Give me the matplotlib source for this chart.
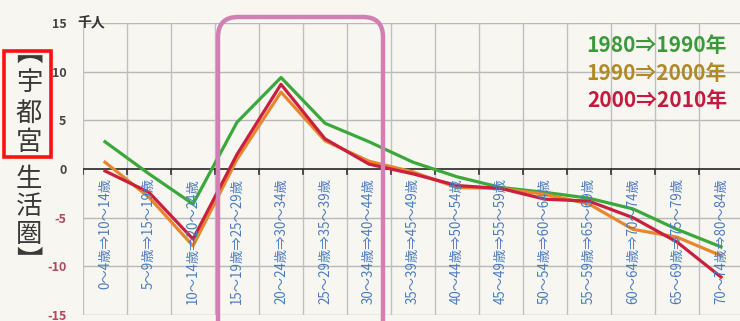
import numpy as np
import matplotlib
matplotlib.use("Agg")
import matplotlib.pyplot as plt
import matplotlib.transforms as mtransforms
from matplotlib.patches import FancyBboxPatch, Rectangle

plt.rcParams['font.family'] = ['Noto Sans CJK JP', 'DejaVu Sans']

# age groups (from -> to, ten years later)
ages_from = ["0～4", "5～9", "10～14", "15～19", "20～24", "25～29", "30～34", "35～39",
             "40～44", "45～49", "50～54", "55～59", "60～64", "65～69", "70～74"]
ages_to = ["10～14", "15～19", "20～24", "25～29", "30～34", "35～39", "40～44", "45～49",
           "50～54", "55～59", "60～64", "65～69", "70～74", "75～79", "80～84"]
labels = [f"{a}歳⇒{b}歳" for a, b in zip(ages_from, ages_to)]

# net migration, thousand people
s1980 = [2.8, -0.5, -3.6, 4.8, 9.4, 4.7, 2.8, 0.7, -0.8, -1.9, -2.4, -3.0, -4.1, -6.2, -8.0]
s1990 = [0.7, -2.9, -7.9, 1.0, 7.9, 2.9, 0.8, -0.3, -1.9, -2.0, -2.6, -3.6, -6.2, -7.0, -8.9]
s2000 = [-0.2, -2.4, -7.2, 1.5, 8.7, 3.1, 0.5, -0.5, -1.7, -2.0, -3.1, -3.3, -5.0, -7.5, -11.1]

series_names = ["1980⇒1990年", "1990⇒2000年", "2000⇒2010年"]
line_colors = ["#3aa83a", "#e8862e", "#c8203e"]
text_colors = ["#3a9a3a", "#b08a28", "#c41a40"]

W, H = 740, 321
fig = plt.figure(figsize=(W / 100, H / 100), dpi=100)
fig.patch.set_facecolor("#f8f6f1")

# axes box in pixels: x 83..743, y 23..315
ax = fig.add_axes([83 / W, 1 - 315 / H, 660 / W, 292 / H])
ax.set_facecolor("#f8f6f1")

x = np.arange(len(labels))
ax.plot(x, s1980, color=line_colors[0], lw=2.3, zorder=3)
ax.plot(x, s1990, color=line_colors[1], lw=2.3, zorder=4)
ax.plot(x, s2000, color=line_colors[2], lw=2.3, zorder=5)

ax.set_xlim(-0.5, len(labels) - 0.5)
ax.set_ylim(-15, 15)
ax.set_yticks([15, 10, 5, 0, -5, -10, -15])
for yv in [15, 10, 5, -5, -10, -15]:
    ax.axhline(yv, color="#b8b8b8", lw=1.0, zorder=1)
ax.axhline(0, color="#444444", lw=1.4, zorder=2)
for xv in np.arange(-0.5, len(labels), 1.0):
    ax.axvline(xv, color="#c0c0c0", lw=1.0, zorder=1)
    ax.plot([xv, xv], [0, -0.5], color="#333333", lw=1.2, zorder=2)

for s in ax.spines.values():
    s.set_visible(False)
ax.set_xticks([])
ax.tick_params(axis="y", length=0, pad=12)
ylabels = ax.set_yticklabels(["15", "10", "5", "0", "-5", "-10", "-15"], fontsize=9,
                             fontweight="bold")
for t, v in zip(ylabels, [15, 10, 5, 0, -5, -10, -15]):
    t.set_color("#b04a5a" if v < 0 else "#444444")

# category labels under the zero line
for i, lab in enumerate(labels):
    ax.text(i, -0.9, lab, rotation=90, ha="center", va="top", fontsize=9.6,
            color="#4a7cc0", zorder=6)

fig.text(77 / W, 1 - 23 / H, "千人", ha="left", va="center", fontsize=10,
         fontweight="bold", color="#333333")

# legend text
for k, (name, c) in enumerate(zip(series_names, text_colors)):
    fig.text(727 / W, 1 - (45 + k * 28) / H, name, ha="right", va="center",
             fontsize=15, fontweight="bold", color=c)

# vertical title
title_chars = ["︻", "宇", "都", "宮", "生", "活", "圏", "︼"]
title_y = [54, 83, 113, 143, 180, 207, 234, 262]
for ch, yy in zip(title_chars, title_y):
    fig.text(29 / W, 1 - yy / H, ch, ha="center", va="center", fontsize=19,
             color="#3a3a3a")

ident = mtransforms.IdentityTransform()
fig.patches.append(Rectangle((4, H - 157), 47, 106, fill=False, edgecolor="#ff1010",
                             lw=2.6, transform=ident, figure=fig))
fig.patches.append(FancyBboxPatch((218, H - 340), 165, 323,
                                  boxstyle="round,pad=0,rounding_size=20",
                                  fill=False, edgecolor="#d27fb4", lw=3.2,
                                  transform=ident, figure=fig, zorder=10))

fig.savefig("out.png", dpi=100, facecolor=fig.get_facecolor())
